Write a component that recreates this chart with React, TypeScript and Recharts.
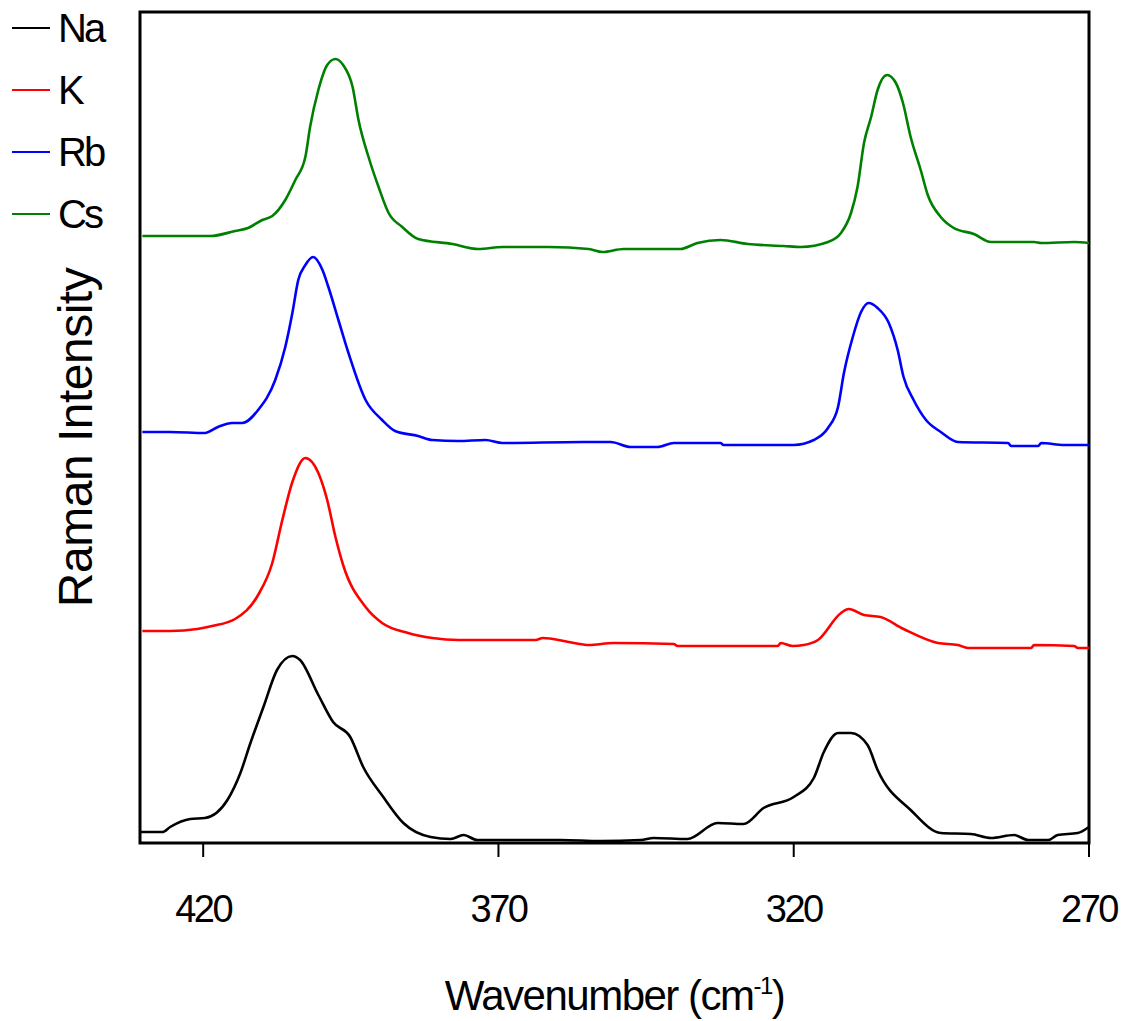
import { LineChart, Line, XAxis, YAxis, ReferenceArea } from "recharts";

// wavenumbers (cm-1) and intensities (a.u., stacked offsets)
const naWave = [430.7, 426.9, 425.6, 422.2, 419.7, 415.9, 413.7, 412.0, 409.8, 407.5, 404.9, 403.6, 400.5, 398.0, 395.1, 392.9, 389.5, 386.1, 381.5, 378.1, 375.9, 373.6, 368.5, 359.5, 352.7, 345.9, 343.7, 338.0, 332.9, 328.5, 325.1, 320.0, 316.6, 314.9, 312.5, 310.3, 307.5, 305.8, 300.2, 295.1, 290.0, 286.6, 282.7, 280.3, 276.9, 275.3, 271.9, 270.0];
const naInt = [11, 11, 16, 24, 25, 43, 70, 100, 136, 173, 187, 183, 148, 121, 106, 76, 46, 20, 6, 4, 8, 3, 3, 3, 2, 3, 5, 4, 20, 19, 35, 46, 65, 91, 110, 110, 98, 73, 33, 10, 9, 5, 8, 3, 3, 8, 10, 16];

const kWave = [430.3, 425.6, 421.0, 418.5, 414.6, 410.7, 408.3, 406.6, 404.9, 402.7, 400.5, 399.0, 397.6, 396.3, 392.5, 389.7, 385.3, 381.2, 376.8, 363.7, 362.5, 358.1, 354.7, 350.5, 340.3, 339.7, 322.7, 322.2, 320.2, 318.3, 315.9, 312.0, 310.7, 308.1, 305.3, 301.4, 295.6, 292.2, 290.5, 279.8, 279.3, 272.5, 271.9, 270.0];
const kInt = [212, 212, 214, 217, 224, 248, 280, 323, 361, 385, 370, 343, 306, 278, 236, 220, 210, 205, 203, 203, 205, 201, 198, 200, 199, 197, 197, 200, 197, 198, 203, 230, 234, 228, 226, 214, 200, 198, 195, 195, 198, 197, 195, 195];

const rbWave = [430.3, 425.6, 419.7, 417.5, 415.1, 413.4, 410.7, 407.8, 406.1, 404.9, 403.9, 402.7, 401.4, 399.8, 398.8, 397.1, 395.4, 392.5, 389.7, 387.5, 383.6, 381.2, 376.8, 372.2, 369.3, 355.8, 351.0, 347.6, 343.1, 340.3, 332.4, 331.9, 320.0, 316.6, 314.2, 312.5, 311.5, 310.0, 308.6, 307.3, 305.8, 303.9, 302.4, 301.4, 299.7, 297.6, 295.1, 292.2, 283.7, 283.2, 278.6, 278.1, 274.2, 270.0];
const rbInt = [411, 411, 410, 416, 420, 420, 433, 463, 496, 530, 563, 578, 586, 573, 556, 523, 490, 443, 423, 412, 407, 403, 402, 403, 400, 401, 401, 396, 396, 400, 400, 398, 398, 403, 415, 436, 470, 506, 531, 540, 535, 520, 493, 466, 443, 423, 411, 401, 400, 397, 397, 400, 398, 398];

const csWave = [430.3, 418.8, 414.6, 412.4, 410.0, 408.3, 406.1, 404.4, 402.7, 401.9, 400.5, 399.0, 397.6, 396.3, 394.7, 393.7, 392.0, 390.3, 388.6, 386.3, 383.6, 377.8, 373.4, 369.3, 361.5, 354.7, 352.4, 348.8, 339.2, 336.3, 332.4, 327.8, 321.7, 318.8, 314.2, 312.0, 310.3, 309.2, 308.1, 306.9, 305.8, 304.2, 302.7, 301.5, 300.2, 298.5, 297.3, 295.1, 292.9, 289.5, 286.6, 279.3, 278.1, 272.5, 270.0];
const csInt = [607, 607, 612, 615, 623, 627, 643, 663, 686, 716, 753, 778, 784, 778, 756, 723, 686, 656, 630, 616, 604, 599, 594, 596, 596, 594, 591, 594, 594, 600, 603, 599, 597, 596, 601, 610, 630, 656, 700, 726, 753, 768, 760, 740, 706, 673, 648, 626, 615, 609, 601, 601, 600, 601, 600];

const xTicks = [420, 370, 320, 270];
const xDomain = [270, 430.7];
const yDomain = [0, 831];

const toPoints = (wave: number[], vals: number[]) =>
  wave.map((w, i) => ({ w, v: vals[i] }));

const series = [
  { name: "Na", color: "#000000", data: toPoints(naWave, naInt) },
  { name: "K", color: "#ff0000", data: toPoints(kWave, kInt) },
  { name: "Rb", color: "#0000ff", data: toPoints(rbWave, rbInt) },
  { name: "Cs", color: "#008000", data: toPoints(csWave, csInt) },
];

const FONT = "'Liberation Sans', Arial, sans-serif";

const XTick = ({ x, y, payload }: any) => (
  <text
    x={x}
    y={y}
    dy="0.71em"
    textAnchor="middle"
    fontFamily={FONT}
    fontSize={38}
    letterSpacing={-2.5}
    fill="#000"
  >
    {payload.value}
  </text>
);

const XLabel = ({ viewBox }: any) => {
  const cx = viewBox.x + viewBox.width / 2;
  const y = viewBox.y + viewBox.height - 11;
  return (
    <text x={cx} y={y} textAnchor="middle" fontFamily={FONT} fontSize={42} letterSpacing={-1.5} fill="#000">
      Wavenumber (cm
      <tspan fontSize={24} dy={-16}>-1</tspan>
      <tspan fontSize={42} dy={16}>)</tspan>
    </text>
  );
};

const YLabel = ({ viewBox }: any) => {
  const cx = viewBox.x + 92;
  const cy = viewBox.y + viewBox.height / 2 + 10;
  return (
    <text
      x={cx}
      y={cy}
      transform={`rotate(-90 ${cx} ${cy})`}
      textAnchor="middle"
      fontFamily={FONT}
      fontSize={48}
      letterSpacing={-0.5}
      fill="#000"
    >
      Raman Intensity
    </text>
  );
};

export default function App() {
  return (
    <div style={{ position: "absolute", left: 0, top: 0, width: 1128, height: 1021, background: "#fff" }}>
      <LineChart width={1128} height={1021} margin={{ top: 12, right: 39, bottom: 0, left: 0 }}>
        <XAxis
          type="number"
          dataKey="w"
          domain={xDomain}
          reversed
          allowDataOverflow
          ticks={xTicks}
          interval={0}
          height={178}
          axisLine={false}
          tickSize={14}
          tickMargin={38}
          tickLine={{ stroke: "#000", strokeWidth: 2 }}
          tick={<XTick />}
          label={<XLabel />}
        />
        <YAxis
          type="number"
          domain={yDomain}
          allowDataOverflow
          width={140}
          tick={false}
          tickLine={false}
          axisLine={false}
          label={<YLabel />}
        />
        <ReferenceArea
          x1={xDomain[0]}
          x2={xDomain[1]}
          y1={yDomain[0]}
          y2={yDomain[1]}
          fill="none"
          stroke="#000"
          strokeWidth={3}
          ifOverflow="visible"
        />
        {series.map((s) => (
          <Line
            key={s.name}
            data={s.data}
            dataKey="v"
            name={s.name}
            type="monotoneX"
            stroke={s.color}
            strokeWidth={2.6}
            dot={false}
            isAnimationActive={false}
          />
        ))}
      </LineChart>

      {/* legend */}
      <div style={{ position: "absolute", left: 12, top: -3, fontFamily: FONT }}>
        {series.map((s) => (
          <div key={s.name} style={{ display: "flex", alignItems: "center", height: 62 }}>
            <span style={{ width: 38, height: 2.5, background: s.color, display: "inline-block" }} />
            <span style={{ marginLeft: 8, fontSize: 40, letterSpacing: -3, color: "#000" }}>{s.name}</span>
          </div>
        ))}
      </div>
    </div>
  );
}
